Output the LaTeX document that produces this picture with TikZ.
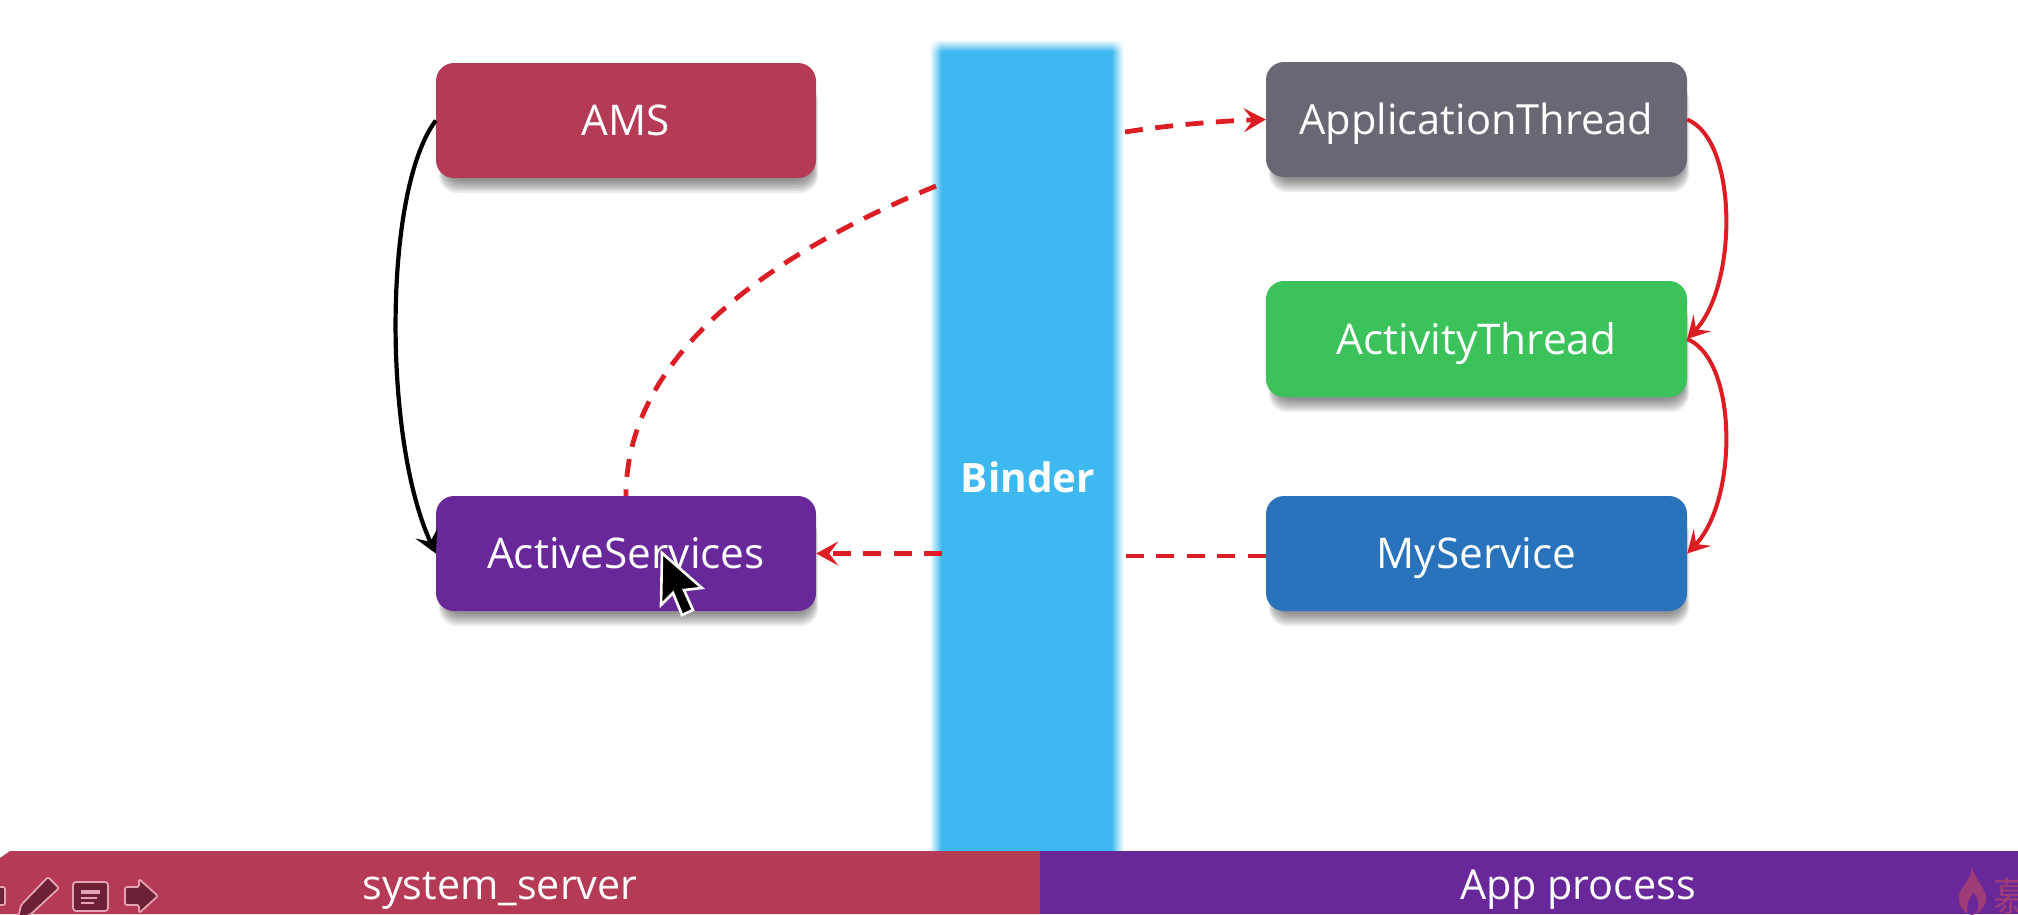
\documentclass[tikz,border=0pt]{standalone}
\usepackage{fontspec}
\setmainfont{Open Sans}
\newfontfamily\cjkwm{Noto Sans CJK SC}
\usetikzlibrary{arrows.meta,calc}
\definecolor{crimsonbox}{HTML}{B53A56}
\definecolor{slatebox}{HTML}{6A6674}
\definecolor{greenbox}{HTML}{3CC25A}
\definecolor{purplebox}{HTML}{68289A}
\definecolor{bluebox}{HTML}{2873BC}
\definecolor{binderblue}{HTML}{3DB8F0}
\definecolor{arrowred}{HTML}{DC1E24}
\definecolor{icondark}{HTML}{6E2035}
\definecolor{iconline}{HTML}{E3A3B3}
\definecolor{wmark}{HTML}{9E3C78}
\tikzset{
  boxnode/.style={rectangle,rounded corners=18pt,minimum width=#1,minimum height=115pt,inner sep=0pt,text=white,font=\fontsize{42.3}{42}\selectfont,text height=30pt,text depth=0pt},
  barlabel/.style={text=white,font=\fontsize{41.3}{41}\selectfont,inner sep=0pt,text height=30pt,text depth=0pt},
  tipred/.style={-{Stealth[length=22pt,width=24pt,inset=9pt,color=arrowred]}},
  redcurve/.style={draw=arrowred,line width=4pt,tipred},
  reddash/.style={draw=arrowred,line width=4.8pt,dash pattern=on 18pt off 12.5pt,tipred},
  blackcurve/.style={draw=black,line width=4.2pt,-{Stealth[length=22pt,width=24pt,inset=9pt]}},
  icon/.style={fill=icondark,draw=iconline,line width=1.8pt,line join=round},
}
\newcommand{\softshadow}[4]{%
  \foreach \g in {0,2,4,6,8,10,12}{%
    \fill[black,opacity=.075,rounded corners=18pt]
      ({#1+3+\g*.4},{#2+20}) rectangle ({#3+2-\g*.4},{#4+15-\g});}%
}
\begin{document}
\begin{tikzpicture}[x=1pt,y=-1pt]
\useasboundingbox (0,0) rectangle (2018,914);
\fill[white] (0,0) rectangle (2018,914);
% Binder column with soft edges
\node[rectangle,fill=binderblue,minimum width=194pt,minimum height=811pt,inner sep=0pt,anchor=north] (binder) at (1027,40) {};
\foreach \i in {0,...,11}{%
  \pgfmathsetmacro{\op}{1-(\i+.5)/12}
  \fill[white,opacity=\op] ({930+\i},40) rectangle ({931+\i},851);
  \fill[white,opacity=\op] ({1123-\i},40) rectangle ({1124-\i},851);
  \fill[white,opacity=\op] (930,{40+\i}) rectangle (1124,{41+\i});
}
\node[text=white,font=\fontsize{40.5}{41}\selectfont\bfseries,inner sep=0pt,text height=30pt,text depth=0pt] (binderlabel) at (1028,477) {Binder};
% shadows
\softshadow{436}{63}{816}{178}
\softshadow{1266}{62}{1687}{177}
\softshadow{1266}{281}{1687}{397}
\softshadow{436}{496}{816}{611}
\softshadow{1266}{496}{1687}{611}
% boxes
\node[boxnode=380pt,fill=crimsonbox] (ams) at (626,120.5) {AMS};
\node[boxnode=380pt,fill=purplebox] (active) at (626,553.5) {ActiveServices};
\node[boxnode=421pt,fill=slatebox,font=\fontsize{41.6}{42}\selectfont] (appthread) at (1476.5,119.5) {ApplicationThread};
\node[boxnode=421pt,minimum height=116pt,fill=greenbox] (actthread) at (1476.5,339) {ActivityThread};
\node[boxnode=421pt,fill=bluebox] (myservice) at (1476.5,553.5) {MyService};
% free ends on the Binder column
\coordinate (bindA) at (936,186);
\coordinate (bindB) at (1125,132);
\coordinate (bindC) at (1124,556);
\coordinate (bindD) at (942,553.5);
% connectors
\draw[blackcurve] (ams.west) .. controls (383,190) and (383,440) .. (active.west);
\draw[redcurve] (appthread.east) .. controls (1738,140) and (1738,285) .. (actthread.east);
\draw[redcurve] (actthread.east) .. controls (1738,360) and (1738,500) .. (myservice.east);
\draw[reddash,-] (bindA) .. controls (760,258) and (626,360) .. (active.north);
\draw[reddash] (bindB) .. controls (1170,125) and (1220,121) .. (appthread.west);
\draw[reddash,-] (myservice.west |- bindC) -- (bindC);
\draw[reddash] (bindD) -- (active.east);
% cursor
\draw[white,line width=2.6pt,fill=black,line join=miter]
  (662,553) -- (702,588) -- (684,590) -- (693,610) -- (682,615) -- (673,593) -- (661,605) -- cycle;
% bottom bars
\fill[crimsonbox] (0,858) -- (10,851) -- (1040,851) -- (1040,914) -- (0,914) -- cycle;
\fill[purplebox] (1040,851) rectangle (2018,914);
\node[barlabel] (sysserver) at (500,884) {system\_server};
\node[barlabel] (appproc) at (1578,884) {App process};
% toolbar icons
\begin{scope}
\clip (0,851) rectangle (2018,914);
\draw[icon,rounded corners=2pt] (-8,887) rectangle (5,905);
\draw[icon,rounded corners=2pt] (48,877) -- (59,888) -- (30,915) -- (18,918) -- (21,905) -- cycle;
\draw[icon,rounded corners=3pt] (73,882) rectangle (108,911);
\fill[iconline] (81,890) rectangle (100,893.5);
\fill[iconline] (81,897) rectangle (97,899);
\fill[iconline] (81,902) rectangle (94,904);
\draw[icon,rounded corners=2pt] (125,887) -- (139,887) -- (139,879) -- (158,896) -- (139,913) -- (139,905) -- (125,905) -- cycle;
% watermark
\fill[wmark] (1972,866) .. controls (1974,880) and (1987,888) .. (1986,900)
  .. controls (1985,908) and (1978,914) .. (1972,915)
  .. controls (1964,913) and (1958,906) .. (1959,896)
  .. controls (1960,886) and (1971,882) .. (1972,866) -- cycle;
\fill[purplebox] (1973,893) .. controls (1979,898) and (1980,906) .. (1975,914) -- (1968,914) .. controls (1966,906) and (1969,898) .. (1973,893) -- cycle;
\node[text=wmark,font=\fontsize{40}{40}\selectfont\cjkwm,anchor=west,inner sep=0pt] (wmchar) at (1993,896) {慕};
\end{scope}
\end{tikzpicture}
\end{document}
